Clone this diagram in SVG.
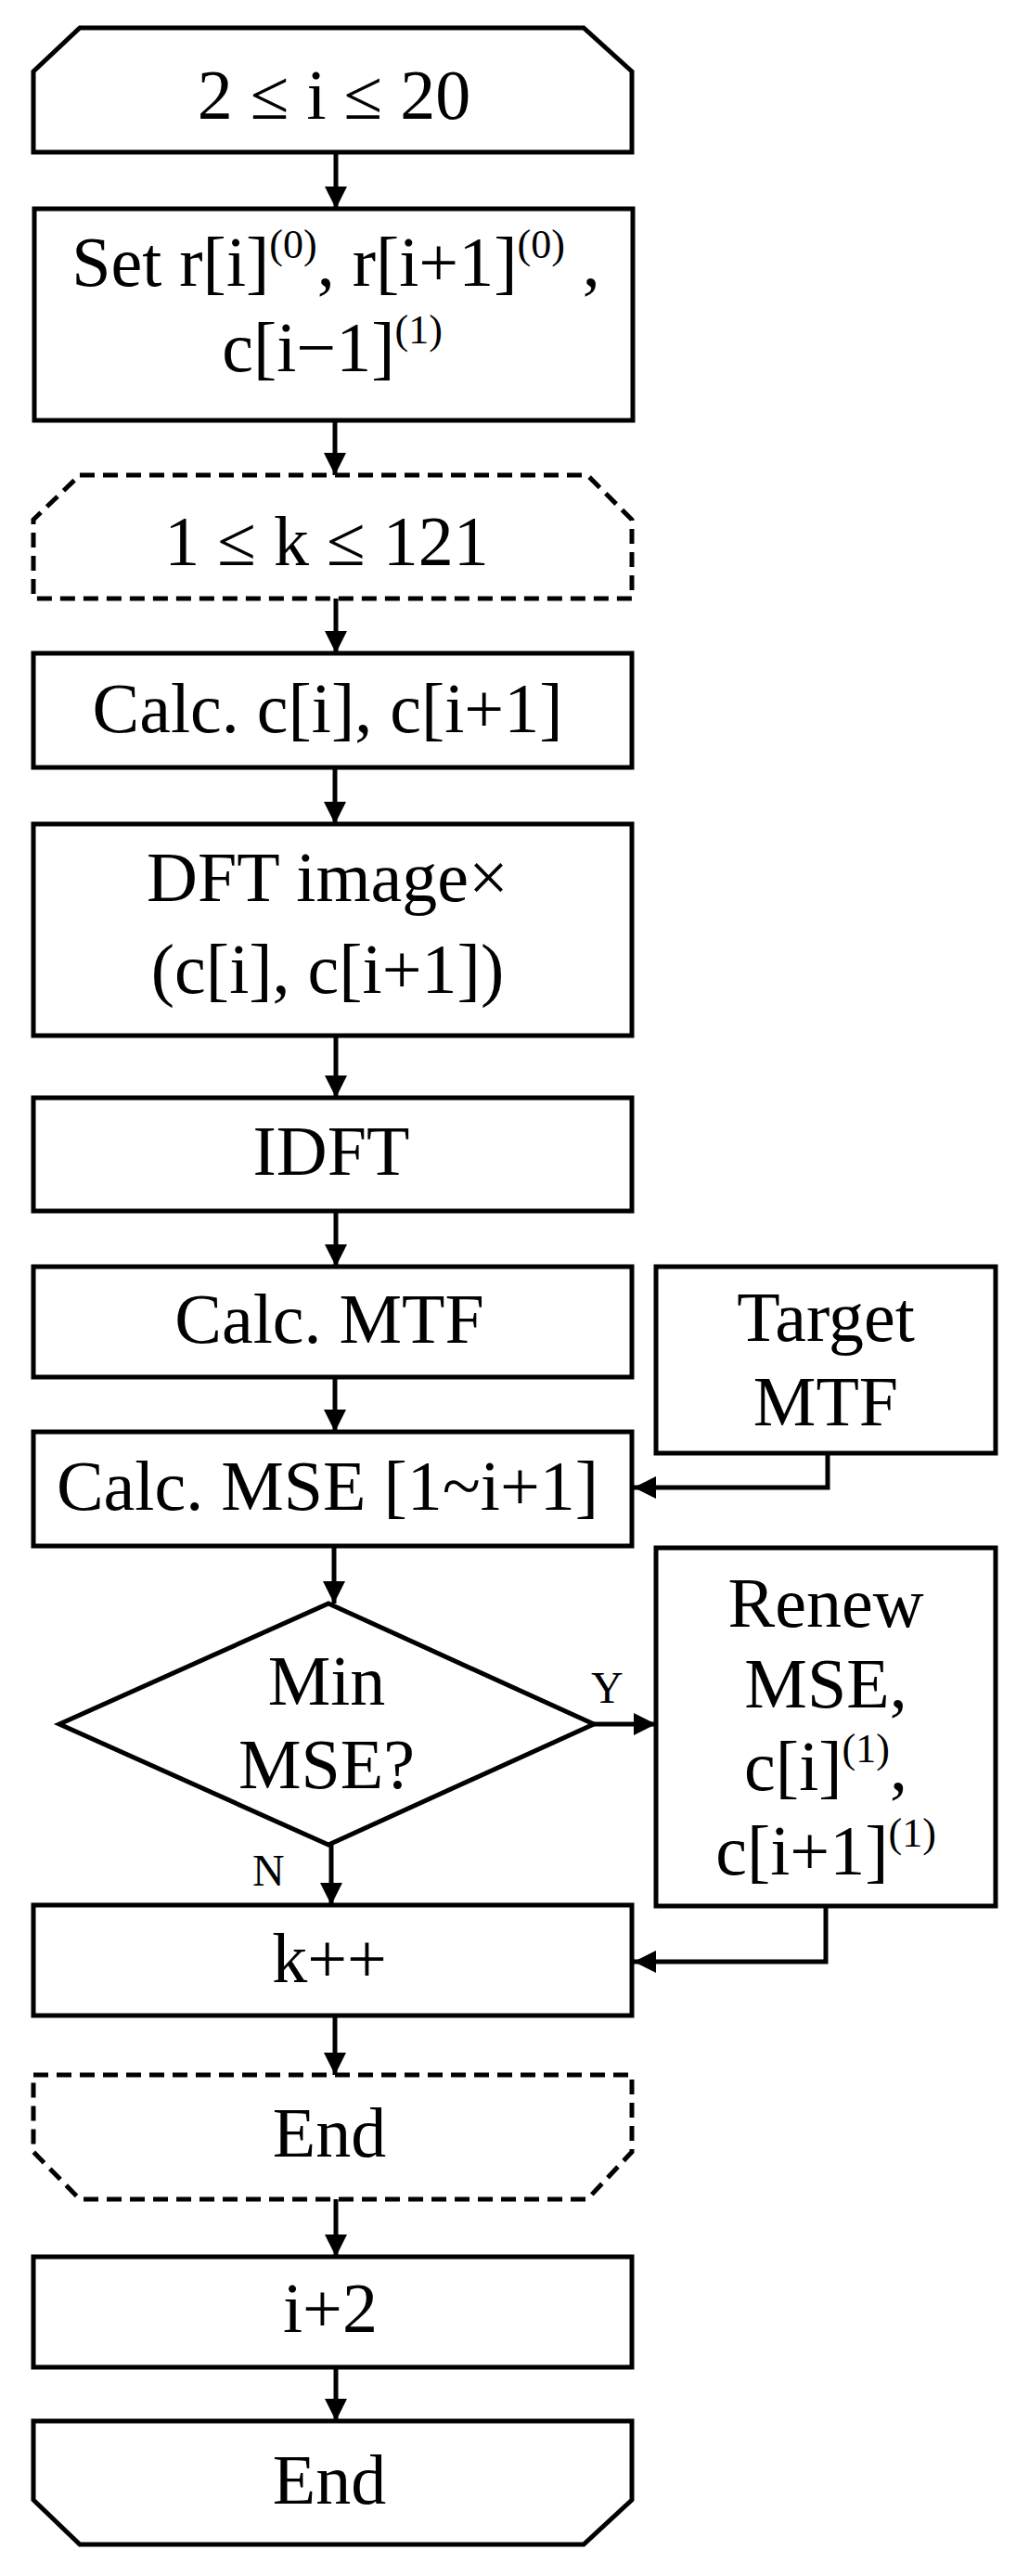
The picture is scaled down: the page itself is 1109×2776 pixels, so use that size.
<svg xmlns="http://www.w3.org/2000/svg" width="1109" height="2776" viewBox="0 0 1109 2776">
<style>
.s{fill:#fff;stroke:#000;stroke-width:5}
.d{fill:#fff;stroke:#000;stroke-width:5;stroke-dasharray:16 9}
.t{font-family:"Liberation Serif",serif;font-size:76px;text-anchor:middle;fill:#000}
.sm{font-size:44px}
.l{font-family:"Liberation Serif",serif;font-size:48px;fill:#000}
.c{fill:none;stroke:#000;stroke-width:5;marker-end:url(#b)}
</style>
<defs>
<marker id="b" viewBox="0 0 10 10" refX="10" refY="5" markerWidth="24" markerHeight="24" markerUnits="userSpaceOnUse" orient="auto"><path d="M0,0L10,5L0,10z"/></marker></defs>
<g id="connectors">
<path class="c" d="M362,164V225"/>
<path class="c" d="M361,453V512"/>
<path class="c" d="M362,645V704"/>
<path class="c" d="M361,827V888"/>
<path class="c" d="M362,1116V1183"/>
<path class="c" d="M362,1305V1365"/>
<path class="c" d="M361,1484V1543"/>
<path class="c" d="M892,1566V1603H683"/>
<path class="c" d="M360,1666V1728"/>
<path class="c" d="M640,1858H707"/>
<path class="c" d="M357,1988V2053"/>
<path class="c" d="M890,2054V2114H683"/>
<path class="c" d="M361,2172V2236"/>
<path class="c" d="M362,2370V2432"/>
<path class="c" d="M362,2551V2609"/>
<text class="l" x="637" y="1835">Y</text>
<text class="l" x="272" y="2032">N</text>
</g>
<g id="start"><path class="s" d="M86,30H629L681,77V164H36V77Z"/><text class="t" x="360" y="128">2 ≤ i ≤ 20</text></g>
<g id="set"><rect class="s" x="37" y="225" width="645" height="228"/><text class="t" x="362" y="308">Set r[i]<tspan class="sm" dy="-30">(0)</tspan><tspan dy="30">, r[i+1]</tspan><tspan class="sm" dy="-30">(0)</tspan><tspan dy="30"> ,</tspan></text><text class="t" x="358" y="400">c[i−1]<tspan class="sm" dy="-30">(1)</tspan></text></g>
<g id="loopk"><path class="d" d="M86,512H633L681,560V645H36V560Z"/><text class="t" x="352" y="609">1 ≤  k ≤ 121</text></g>
<g id="calcc"><rect class="s" x="36" y="704" width="645" height="123"/><text class="t" x="353" y="789">Calc. c[i], c[i+1]</text></g>
<g id="dft"><rect class="s" x="36" y="888" width="645" height="228"/><text class="t" x="353" y="971">DFT image×</text><text class="t" x="353" y="1070">(c[i], c[i+1])</text></g>
<g id="idft"><rect class="s" x="36" y="1183" width="645" height="122"/><text class="t" x="357" y="1266">IDFT</text></g>
<g id="calcmtf"><rect class="s" x="36" y="1365" width="645" height="119"/><text class="t" x="355" y="1447">Calc. MTF</text></g>
<g id="target"><rect class="s" x="707" y="1365" width="366" height="201"/><text class="t" x="890" y="1445">Target</text><text class="t" x="890" y="1536">MTF</text></g>
<g id="calcmse"><rect class="s" x="36" y="1543" width="645" height="123"/><text class="t" x="353" y="1627">Calc. MSE [1~i+1]</text></g>
<g id="diamond"><path class="s" d="M354,1728L640,1858L354,1988L64,1858Z"/><text class="t" x="352" y="1837">Min</text><text class="t" x="352" y="1927">MSE?</text></g>
<g id="renew"><rect class="s" x="707" y="1668" width="366" height="386"/><text class="t" x="890" y="1753">Renew</text><text class="t" x="890" y="1840">MSE,</text><text class="t" x="890" y="1929">c[i]<tspan class="sm" dy="-30">(1)</tspan><tspan dy="30">,</tspan></text><text class="t" x="890" y="2020">c[i+1]<tspan class="sm" dy="-30">(1)</tspan></text></g>
<g id="kpp"><rect class="s" x="36" y="2053" width="645" height="119"/><text class="t" x="355" y="2136">k++</text></g>
<g id="endk"><path class="d" d="M36,2236H681V2319L633,2370H86L36,2319Z"/><text class="t" x="355" y="2324">End</text></g>
<g id="i2"><rect class="s" x="36" y="2432" width="645" height="119"/><text class="t" x="356" y="2513">i+2</text></g>
<g id="end"><path class="s" d="M36,2609H681V2694L629,2742H86L36,2694Z"/><text class="t" x="355" y="2698">End</text></g>
</svg>
